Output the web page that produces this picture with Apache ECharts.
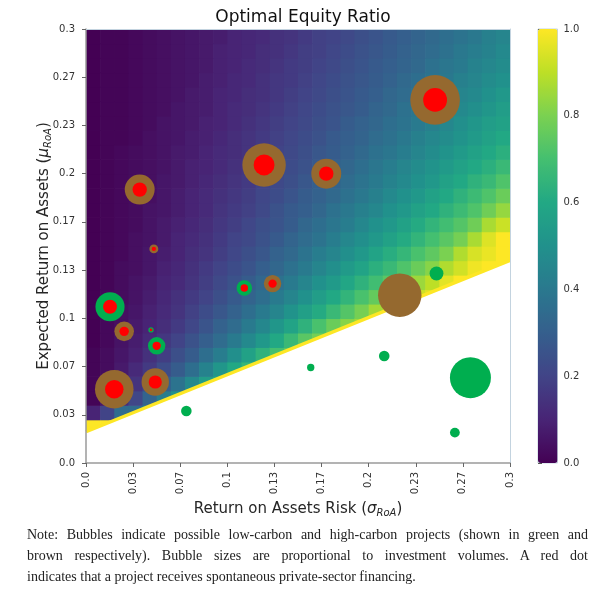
<!DOCTYPE html>
<html>
<head>
<meta charset="utf-8">
<script src="https://cdn.jsdelivr.net/npm/echarts/dist/echarts.min.js"></script>
<style>
  html, body { margin: 0; padding: 0; background: #fff; }
  #chart { position: absolute; left: 0; top: 0; width: 609px; height: 589px; }
  .note { position: absolute; left: 27px; top: 524px; width: 561px;
    font-family: 'Liberation Serif', 'DejaVu Serif', serif; font-size: 14px; line-height: 21px; color: #222; }
  .note .j { text-align: justify; text-align-last: justify; }
</style>
</head>
<body>
<div id="chart"></div>
<div class="note">
  <div class="j">Note: Bubbles indicate possible low-carbon and high-carbon projects (shown in green and</div>
  <div class="j">brown respectively). Bubble sizes are proportional to investment volumes. A red dot</div>
  <div>indicates that a project receives spontaneous private-sector financing.</div>
</div>
<script>
// tick labels as printed on the reference
const xTickLabels = ['0.0', '0.03', '0.07', '0.1', '0.13', '0.17', '0.2', '0.23', '0.27', '0.3'];
const yTickLabels = ['0.0', '0.03', '0.07', '0.1', '0.13', '0.17', '0.2', '0.23', '0.27', '0.3'];
const colorTicks = ['0.0', '0.2', '0.4', '0.6', '0.8', '1.0'];

// lower edge of the shaded region (below it the ratio is undefined -> white)
const boundaryLine = [[0, 0.0216], [0.3, 0.14]];

// optimal equity ratio on a 0.01 x 0.01 grid.
// heatCols[i] = column sigma in [0.01i, 0.01(i+1)], starting at row heatStart[i]
const heatStart = [2, 2, 2, 3, 3, 4, 4, 4, 5, 5, 6, 6, 6, 7, 7, 8, 8, 8, 9, 9, 10, 10, 10, 11, 11, 12, 12, 12, 13, 13];
const heatCols = [
  [1, .1, .01, .01, .01, .01, 0, 0, 0, 0, 0, 0, 0, 0, 0, 0, 0, 0, 0, 0, 0, 0, 0, 0, 0, 0, 0, 0],
  [1, .2, .06, .04, .03, .03, .02, .02, .02, .02, .01, .01, .01, .01, .01, .01, .01, .01, .01, .01, .01, .01, .01, .01, .01, .01, .01, .01],
  [1, .35, .13, .09, .07, .06, .05, .04, .04, .03, .03, .03, .02, .02, .02, .02, .02, .02, .02, .02, .01, .01, .01, .01, .01, .01, .01, .01],
  [.35, .21, .15, .12, .09, .08, .07, .06, .05, .05, .04, .04, .04, .03, .03, .03, .03, .03, .03, .02, .02, .02, .02, .02, .02, .02, .02],
  [.45, .32, .22, .17, .14, .12, .1, .09, .08, .07, .06, .06, .05, .05, .05, .04, .04, .04, .04, .04, .03, .03, .03, .03, .03, .03, .03],
  [.42, .3, .23, .18, .16, .13, .12, .11, .1, .09, .08, .07, .07, .06, .06, .06, .05, .05, .05, .05, .04, .04, .04, .04, .04, .04],
  [.5, .38, .29, .24, .2, .17, .15, .14, .12, .11, .1, .1, .09, .08, .08, .07, .07, .07, .06, .06, .06, .05, .05, .05, .05, .05],
  [.53, .47, .36, .29, .25, .21, .19, .17, .15, .14, .13, .12, .11, .1, .1, .09, .09, .08, .08, .07, .07, .07, .06, .06, .06, .06],
  [.55, .44, .36, .3, .26, .23, .2, .18, .17, .15, .14, .13, .12, .12, .11, .1, .1, .09, .09, .08, .08, .08, .07, .07, .07],
  [.6, .52, .42, .35, .31, .27, .24, .22, .2, .18, .17, .16, .15, .14, .13, .12, .12, .11, .1, .1, .1, .09, .09, .09, .08],
  [.6, .49, .41, .35, .31, .28, .25, .23, .21, .2, .18, .17, .16, .15, .14, .13, .13, .12, .12, .11, .11, .1, .1, .1],
  [.66, .57, .47, .41, .36, .32, .29, .26, .24, .22, .21, .19, .18, .17, .16, .15, .15, .14, .13, .13, .12, .12, .11, .11],
  [.69, .64, .53, .46, .41, .36, .33, .3, .27, .25, .24, .22, .21, .2, .18, .17, .17, .16, .15, .14, .14, .13, .13, .12],
  [.7, .6, .52, .45, .41, .37, .33, .31, .28, .26, .25, .23, .22, .21, .2, .19, .18, .17, .16, .16, .15, .14, .14],
  [.74, .67, .58, .51, .45, .41, .37, .34, .32, .29, .28, .26, .24, .23, .22, .21, .2, .19, .18, .17, .17, .16, .15],
  [.74, .64, .56, .5, .45, .41, .38, .35, .33, .3, .29, .27, .25, .24, .23, .22, .21, .2, .19, .18, .18, .17],
  [.79, .71, .61, .55, .5, .45, .42, .38, .36, .33, .31, .3, .28, .27, .25, .24, .23, .22, .21, .2, .19, .19],
  [.81, .77, .67, .6, .54, .49, .45, .42, .39, .37, .34, .32, .31, .29, .28, .26, .25, .24, .23, .22, .21, .2],
  [.82, .73, .65, .59, .54, .49, .46, .42, .4, .37, .35, .33, .31, .3, .29, .27, .26, .25, .24, .23, .22],
  [.86, .79, .71, .64, .58, .53, .49, .46, .43, .4, .38, .36, .34, .32, .31, .29, .28, .27, .26, .25, .24],
  [.86, .76, .69, .63, .58, .53, .5, .46, .43, .41, .39, .37, .35, .33, .32, .3, .29, .28, .27, .26],
  [.9, .82, .74, .67, .62, .57, .53, .5, .47, .44, .42, .39, .37, .36, .34, .33, .31, .3, .29, .28],
  [.92, .88, .79, .72, .66, .61, .57, .53, .5, .47, .45, .42, .4, .38, .37, .35, .34, .32, .31, .3],
  [.93, .85, .77, .71, .65, .61, .57, .53, .5, .48, .45, .43, .41, .39, .37, .36, .34, .33, .32],
  [.96, .9, .82, .75, .7, .65, .6, .57, .53, .51, .48, .46, .43, .42, .4, .38, .37, .35, .34],
  [.96, .88, .8, .74, .69, .64, .6, .57, .54, .51, .48, .46, .44, .42, .4, .39, .37, .36],
  [1, .93, .88, .79, .73, .68, .64, .6, .57, .54, .51, .49, .47, .45, .43, .41, .4, .38],
  [1, .98, .94, .87, .78, .72, .68, .64, .6, .57, .54, .52, .49, .47, .45, .44, .42, .4],
  [1, .97, .95, .87, .78, .72, .67, .63, .6, .57, .55, .52, .5, .48, .46, .44, .43],
  [1, 1, 1, .92, .84, .77, .72, .67, .63, .6, .57, .55, .53, .5, .48, .47, .45],
];

// projects: [risk sigma, expected return mu, investment volume, financed (1 = red dot)]
const highCarbon = [
  [0.038, 0.189, 56, 1],
  [0.126, 0.206, 118, 1],
  [0.048, 0.148, 5, 1],
  [0.247, 0.251, 154, 1],
  [0.170, 0.200, 56, 1],
  [0.027, 0.091, 24, 1],
  [0.020, 0.051, 93, 1],
  [0.049, 0.056, 47, 1],
  [0.132, 0.124, 19, 1],
  [0.222, 0.116, 118, 0],
];
const lowCarbon = [
  [0.017, 0.108, 53, 1],
  [0.046, 0.092, 1.8, 1],
  [0.050, 0.081, 19, 1],
  [0.071, 0.036, 7, 0],
  [0.112, 0.121, 15, 1],
  [0.248, 0.131, 12, 0],
  [0.159, 0.066, 3.4, 0],
  [0.211, 0.074, 7, 0],
  [0.272, 0.059, 105, 0],
  [0.261, 0.021, 6, 0],
];

const viridis = ['#440154', '#482475', '#414487', '#355f8d', '#2a788e', '#21918c',
  '#22a884', '#44bf70', '#7ad151', '#bddf26', '#fde725'];

const STEP = 0.3 / 9;
const CELL = 0.01;
const FONT = 'DejaVu Sans';
const TEXT = '#262626';

function tickFormatter(labels, step) {
  return v => labels[Math.round(v / step)] || '';
}

function bubbleSize(val) {
  return 4 * Math.sqrt(val[2]);
}

function renderCell(params, api) {
  const x0 = api.value(0);
  const y0 = api.value(1);
  const tl = api.coord([x0, y0 + CELL]);
  const br = api.coord([x0 + CELL, y0]);
  return {
    type: 'rect',
    shape: { x: tl[0], y: tl[1], width: br[0] - tl[0] + 0.7, height: br[1] - tl[1] + 0.7 },
    style: { fill: api.visual('color') },
  };
}

const heatData = [];
heatCols.forEach((col, i) => {
  col.forEach((v, k) => heatData.push([i * CELL, (heatStart[i] + k) * CELL, v]));
});
const financed = highCarbon.concat(lowCarbon).filter(p => p[3] === 1);

const nameStyle = {
  fontSize: 15,
  fontFamily: FONT,
  color: TEXT,
  rich: {
    i: { fontSize: 15, fontStyle: 'italic', fontFamily: FONT, color: TEXT },
    s: { fontSize: 10, fontStyle: 'italic', fontFamily: FONT, color: TEXT, padding: [8, 0, 0, 0] },
  },
};
const tickLabel = { fontSize: 10, fontFamily: FONT, color: '#333' };
const frameLine = { show: true, onZero: false, lineStyle: { color: '#c3d3df', width: 1 } };

const myChart = echarts.init(document.getElementById('chart'));
myChart.setOption({
  animation: false,
  title: {
    text: 'Optimal Equity Ratio',
    left: 298,
    top: 4,
    textAlign: 'center',
    textStyle: { fontSize: 17, fontWeight: 'normal', fontFamily: FONT, color: '#111' },
  },
  grid: [
    { left: 86, top: 29, width: 424, height: 434, outerBoundsMode: 'none' },
    { left: 538, top: 29, width: 19.5, height: 434, show: true, borderColor: '#c3d3df', borderWidth: 1, outerBoundsMode: 'none' },
  ],
  visualMap: {
    type: 'continuous',
    seriesIndex: 0,
    dimension: 2,
    min: 0,
    max: 1,
    inRange: { color: viridis },
    orient: 'vertical',
    left: 538,
    top: 29,
    itemWidth: 19.5,
    itemHeight: 434,
    calculable: false,
    showLabel: false,
    padding: 0,
  },
  xAxis: [
    {
      type: 'value',
      gridIndex: 0,
      min: 0,
      max: 0.3,
      interval: STEP,
      z: 10,
      name: 'Return on Assets Risk ({i|σ}{s|RoA})',
      nameLocation: 'middle',
      nameGap: 37,
      nameMoveOverlap: false,
      nameTextStyle: nameStyle,
      axisLine: { show: true, onZero: false, lineStyle: { color: '#9a9a9a', width: 1.5 } },
      axisTick: { show: true, length: 4, lineStyle: { color: '#666' } },
      axisLabel: Object.assign({ rotate: 90, margin: 9, formatter: tickFormatter(xTickLabels, STEP) }, tickLabel),
      splitLine: { show: false },
    },
    {
      type: 'value', gridIndex: 0, position: 'top', min: 0, max: 0.3, z: 10,
      axisLine: frameLine, axisTick: { show: false }, axisLabel: { show: false }, splitLine: { show: false },
    },
    { type: 'value', gridIndex: 1, min: 0, max: 1, show: false },
  ],
  yAxis: [
    {
      type: 'value',
      gridIndex: 0,
      min: 0,
      max: 0.3,
      interval: STEP,
      z: 10,
      name: 'Expected Return on Assets ({i|μ}{s|RoA})',
      nameLocation: 'middle',
      nameGap: 33,
      nameMoveOverlap: false,
      nameTextStyle: nameStyle,
      axisLine: { show: true, onZero: false, lineStyle: { color: '#9a9a9a', width: 1.5 } },
      axisTick: { show: true, length: 4, lineStyle: { color: '#666' } },
      axisLabel: Object.assign({ margin: 11, formatter: tickFormatter(yTickLabels, STEP) }, tickLabel),
      splitLine: { show: false },
    },
    {
      type: 'value', gridIndex: 0, position: 'right', min: 0, max: 0.3, z: 10,
      axisLine: frameLine, axisTick: { show: false }, axisLabel: { show: false }, splitLine: { show: false },
    },
    {
      type: 'value',
      gridIndex: 1,
      position: 'right',
      min: 0,
      max: 1,
      interval: 0.2,
      axisLine: { show: false },
      axisTick: { show: true, length: 4, lineStyle: { color: '#555' } },
      axisLabel: Object.assign({ margin: 6, formatter: tickFormatter(colorTicks, 0.2) }, tickLabel),
      splitLine: { show: false },
    },
  ],
  series: [
    {
      type: 'custom',
      renderItem: renderCell,
      data: heatData,
      encode: { x: 0, y: 1 },
      clip: true,
      silent: true,
      z: 1,
    },
    {
      type: 'line',
      data: boundaryLine,
      symbol: 'none',
      lineStyle: { width: 3.5, color: '#fde725' },
      areaStyle: { color: '#ffffff', opacity: 1 },
      silent: true,
      clip: true,
      z: 2,
    },
    {
      type: 'scatter',
      data: highCarbon,
      symbolSize: bubbleSize,
      itemStyle: { color: '#95692f', opacity: 1 },
      silent: true,
      z: 3,
    },
    {
      type: 'scatter',
      data: lowCarbon,
      symbolSize: bubbleSize,
      itemStyle: { color: '#00ae4f', opacity: 1 },
      silent: true,
      z: 4,
    },
    {
      type: 'scatter',
      data: financed,
      symbolSize: val => 0.48 * bubbleSize(val),
      itemStyle: { color: '#ff0000', opacity: 1 },
      silent: true,
      z: 5,
    },
  ],
});
</script>
</body>
</html>
